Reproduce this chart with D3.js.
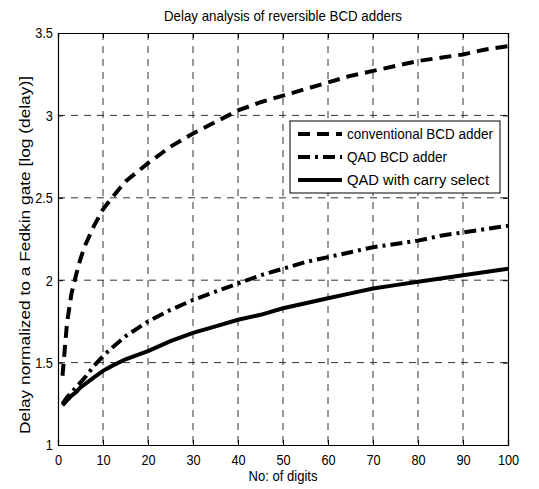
<!DOCTYPE html>
<html>
<head>
<meta charset="utf-8">
<script src="https://cdn.jsdelivr.net/npm/d3@7"></script>
<style>
  body { margin: 0; background: #fff; }
  svg { display: block; font-family: "Liberation Sans", Arial, sans-serif; }
</style>
</head>
<body>
<div id="chart"></div>
<script>
// Data
var digits = [1, 2, 3, 4, 5, 6, 8, 10, 12, 15, 20, 25, 30, 35, 40, 45, 50, 55, 60, 65, 70, 75, 80, 85, 90, 95, 100];
var conventional = [1.42, 1.74, 1.92, 2.03, 2.13, 2.21, 2.33, 2.43, 2.50, 2.60, 2.71, 2.81, 2.89, 2.96, 3.03, 3.08, 3.12, 3.16, 3.20, 3.24, 3.27, 3.30, 3.33, 3.35, 3.37, 3.40, 3.42];
var qadBcd = [1.25, 1.29, 1.32, 1.35, 1.38, 1.41, 1.48, 1.54, 1.59, 1.66, 1.75, 1.82, 1.88, 1.93, 1.98, 2.03, 2.07, 2.11, 2.14, 2.17, 2.20, 2.22, 2.24, 2.27, 2.29, 2.31, 2.33];
var qadCarry = [1.24, 1.27, 1.30, 1.32, 1.35, 1.37, 1.41, 1.45, 1.48, 1.52, 1.57, 1.63, 1.68, 1.72, 1.76, 1.79, 1.83, 1.86, 1.89, 1.92, 1.95, 1.97, 1.99, 2.01, 2.03, 2.05, 2.07];
var seriesNames = ["conventional BCD adder", "QAD BCD adder", "QAD with carry select"];
var xTicks = [0, 10, 20, 30, 40, 50, 60, 70, 80, 90, 100];
var yTicks = [1, 1.5, 2, 2.5, 3, 3.5];

var W = 539, H = 489;
var margin = {top: 33, right: 31, bottom: 44, left: 58};
var width = W - margin.left - margin.right;
var height = H - margin.top - margin.bottom;

var svg = d3.select("#chart").append("svg")
    .attr("width", W)
    .attr("height", H);

var g = svg.append("g")
    .attr("transform", "translate(" + margin.left + "," + margin.top + ")");

var x = d3.scaleLinear().domain([0, 100]).range([0, width]);
var y = d3.scaleLinear().domain([1, 3.5]).range([height, 0]);

// Grid lines
g.selectAll(".vgrid")
    .data(xTicks.slice(1, -1))
    .enter().append("line")
    .attr("x1", function(d) { return x(d); })
    .attr("x2", function(d) { return x(d); })
    .attr("y1", 0).attr("y2", height)
    .attr("stroke", "#333").attr("stroke-width", 1)
    .attr("stroke-dasharray", "7,6");

g.selectAll(".hgrid")
    .data(yTicks.slice(1, -1))
    .enter().append("line")
    .attr("y1", function(d) { return y(d); })
    .attr("y2", function(d) { return y(d); })
    .attr("x1", 0).attr("x2", width)
    .attr("stroke", "#333").attr("stroke-width", 1)
    .attr("stroke-dasharray", "7,6");

// Axes
g.append("g")
    .attr("transform", "translate(0," + height + ")")
    .call(d3.axisBottom(x).tickValues(xTicks).tickSize(-5).tickPadding(9).tickFormat(d3.format("d")));
g.append("g")
    .call(d3.axisLeft(y).tickValues(yTicks).tickSize(-5).tickPadding(6).tickFormat(function(d) { return String(d); }));
g.append("g")
    .call(d3.axisTop(x).tickValues(xTicks).tickSize(-5).tickFormat(""));
g.append("g")
    .attr("transform", "translate(" + width + ",0)")
    .call(d3.axisRight(y).tickValues(yTicks).tickSize(-5).tickFormat(""));

g.selectAll(".domain").attr("stroke", "#000").attr("stroke-width", 1.2);
g.selectAll(".tick line").attr("stroke", "#000");
// the reference figure is squeezed sideways, so text is narrower than tall
g.selectAll(".tick text").attr("fill", "#000").style("font-size", "15px")
    .style("font-family", "Liberation Sans, Arial, sans-serif")
    .attr("transform", "scale(0.85,1)");

// Lines
var dashes = ["12,7", "12,5,3,5", null];
var allSeries = [conventional, qadBcd, qadCarry];
var line = d3.line()
    .x(function(d, i) { return x(digits[i]); })
    .y(function(d) { return y(d); });

allSeries.forEach(function(s, k) {
    g.append("path")
        .datum(s)
        .attr("fill", "none")
        .attr("stroke", "#000")
        .attr("stroke-width", 4)
        .attr("stroke-dasharray", dashes[k])
        .attr("d", line);
});

// Legend
var legend = svg.append("g").attr("transform", "translate(290,121)");
legend.append("rect")
    .attr("width", 210).attr("height", 72)
    .attr("fill", "#fff").attr("stroke", "#000").attr("stroke-width", 1);
var legendLens = [146, 100, 142];
seriesNames.forEach(function(name, k) {
    var ly = 13 + k * 23;
    legend.append("line")
        .attr("x1", 8).attr("x2", 52)
        .attr("y1", ly).attr("y2", ly)
        .attr("stroke", "#000").attr("stroke-width", 4)
        .attr("stroke-dasharray", dashes[k]);
    legend.append("text")
        .attr("x", 57).attr("y", ly + 5)
        .style("font-size", "14px")
        .attr("textLength", legendLens[k])
        .attr("lengthAdjust", "spacingAndGlyphs")
        .text(name);
});

// Title and axis labels
svg.append("text")
    .attr("x", margin.left + width / 2).attr("y", 21)
    .attr("text-anchor", "middle")
    .style("font-size", "15px")
    .attr("textLength", 238)
    .attr("lengthAdjust", "spacingAndGlyphs")
    .text("Delay analysis of reversible BCD adders");

svg.append("text")
    .attr("x", margin.left + width / 2).attr("y", 481)
    .attr("text-anchor", "middle")
    .style("font-size", "15px")
    .attr("textLength", 69)
    .attr("lengthAdjust", "spacingAndGlyphs")
    .text("No: of digits");

svg.append("text")
    .attr("transform", "rotate(-90)")
    .attr("x", -255).attr("y", 30)
    .attr("text-anchor", "middle")
    .style("font-size", "15px")
    .attr("textLength", 358)
    .attr("lengthAdjust", "spacingAndGlyphs")
    .text("Delay normalized to a Fedkin gate [log (delay)]");
</script>
</body>
</html>
